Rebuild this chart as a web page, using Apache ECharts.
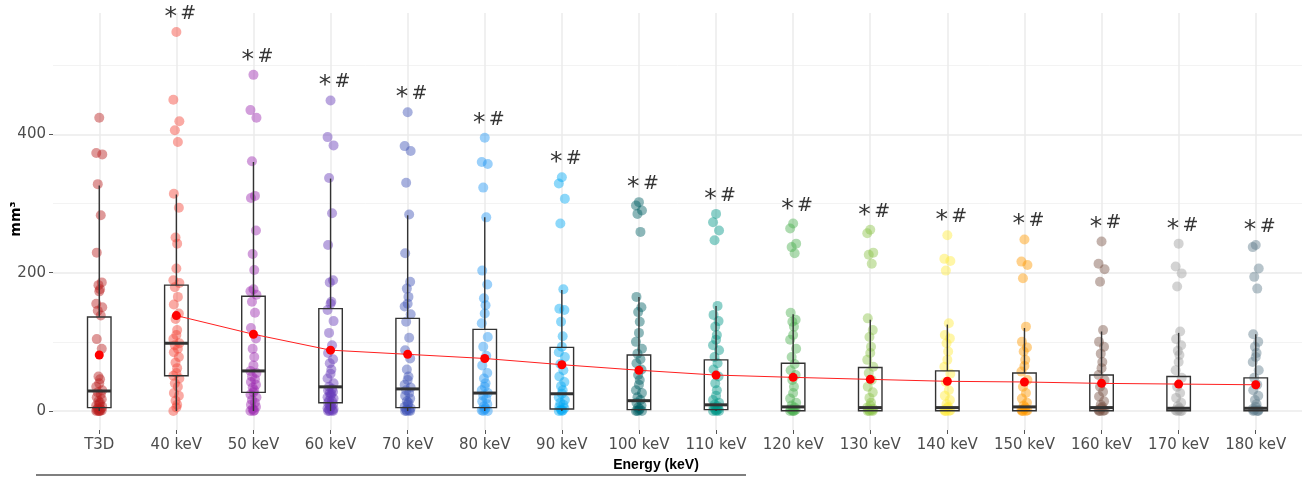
<!DOCTYPE html>
<html><head><meta charset="utf-8">
<script src="https://cdn.jsdelivr.net/npm/echarts@6/dist/echarts.min.js"></script>
<style>html,body{margin:0;padding:0;background:#fff}#c{width:1306px;height:477px}</style>
</head><body><div id="c"></div>
<script>
const categories = ['T3D','40 keV','50 keV','60 keV','70 keV','80 keV','90 keV','100 keV','110 keV','120 keV','130 keV','140 keV','150 keV','160 keV','170 keV','180 keV'];
const yTickLabels = [0, 200, 400];
const yMinorGrid = [100, 300, 500];
const yAxisTitle = 'mm³';
const xAxisTitle = 'Energy (keV)';

const pts_T3D = [424,373,371,328,283,229,186,182,176,173,155,150,145,138,104,90,50,46,40,35,30,27,24,20,17,14,12,10,8,6,4,3,2,1,0,0,0,0];
const pts_40 = [548,450,419,406,389,314,294,251,242,206,189,185,179,165,154,141,133,117,110,104,98,95,90,85,78,70,62,55,51,47,40,35,26,22,15,9,5,0];
const pts_50 = [486,435,424,361,311,308,261,227,204,176,173,168,158,142,120,105,90,78,66,58,55,50,46,42,38,34,30,27,24,20,16,12,9,6,3,1,0,0];
const pts_60 = [449,396,384,337,286,240,189,186,158,155,146,130,113,95,84,75,69,60,54,47,40,35,32,30,28,26,25,22,20,18,15,14,12,10,8,7,5,4,3,2,1,0,0,0];
const pts_70 = [432,383,376,330,284,228,187,177,165,155,151,140,129,106,88,76,60,50,45,38,34,30,26,22,18,14,12,9,6,4,2,1,0,0,0];
const pts_80 = [395,360,357,323,280,203,183,163,153,141,127,107,93,80,66,55,47,40,35,30,26,22,18,14,10,7,4,2,1,0,0];
const pts_90 = [338,329,307,271,176,148,146,129,108,93,85,78,68,59,50,42,36,30,25,20,16,12,9,6,4,2,1,0,0];
const pts_100 = [302,297,290,285,259,165,150,143,129,113,100,90,83,75,69,60,52,45,38,30,26,20,16,12,8,5,3,1,0,0,0];
const pts_110 = [285,273,261,247,152,139,130,122,110,103,95,88,78,69,60,50,40,30,22,16,12,9,7,5,3,2,1,0,0,0];
const pts_120 = [271,264,242,237,228,142,132,129,122,110,103,90,78,68,59,52,45,35,26,18,12,8,5,3,2,1,0,0,0];
const pts_130 = [262,257,229,226,213,134,117,107,93,84,74,64,55,45,35,27,19,12,8,5,3,2,1,0,0,0];
const pts_140 = [254,220,217,203,127,110,105,98,86,74,64,54,42,30,22,16,10,6,4,2,1,0,0,0];
const pts_150 = [248,216,211,192,122,100,92,86,74,65,57,45,35,26,18,12,8,5,3,2,1,0,0,0];
const pts_160 = [245,213,205,187,117,100,93,83,71,62,52,45,35,28,21,14,9,6,4,2,1,0,0,0];
const pts_170 = [242,209,199,180,115,104,95,87,81,71,59,48,35,26,19,12,7,4,2,1,0,0,0];
const pts_180 = [240,237,206,194,177,111,100,93,84,78,71,59,48,38,30,22,16,10,6,3,2,1,0,0,0];
const groupPoints = [pts_T3D,pts_40,pts_50,pts_60,pts_70,pts_80,pts_90,pts_100,pts_110,pts_120,pts_130,pts_140,pts_150,pts_160,pts_170,pts_180];

const whiskerLow  = [0,0,0,0,0,0,0,0,0,0,0,0,0,0,0,0];
const q1          = [5,51,27,12,5,5,3,2,2,0.5,0.5,0.5,0.5,0.5,0.5,0.5];
const median      = [29,98,58,35,32,26,25,15,9,6,5,5,6,5,4,4];
const q3          = [136,182,166,148,134,118,92,81,74,69,63,58,55,52,50,48];
const whiskerHigh = [326,313,360,336,283,280,175,165,152,140,132,125,120,115,113,111];
const means       = [81,138,111,88,82,76,67,59,52,48.7,45.8,43,42,40,39,38];
const significance = ['', '* #','* #','* #','* #','* #','* #','* #','* #','* #','* #','* #','* #','* #','* #','* #'];

const colors = ['#B71C1C','#F44336','#9C27B0','#673AB7','#3F51B5','#2196F3','#03A9F4','#006064','#009688','#4CAF50','#8BC34A','#FFEB3B','#FF9800','#795548','#9E9E9E','#607D8B'];
const jitter = [0,-3,3,-1.5,1.5,-2.5,2.5,-0.8,0.8];
const catIdx = categories.map((c,i)=>i);

const series = [];
groupPoints.forEach((pts, i) => {
  series.push({
    type:'scatter', z:2, silent:true,
    symbolSize:10,
    itemStyle:{color:colors[i], opacity:0.45},
    data: pts.map((v,k)=>({value:[i,v], symbolOffset:[jitter[k%jitter.length],0]}))
  });
});
series.push({
  type:'custom', z:3, silent:true,
  encode:{x:0, y:[1,2,3,4,5]},
  data: catIdx.map(i=>[i, whiskerLow[i], q1[i], median[i], q3[i], whiskerHigh[i]]),
  renderItem(params, api){
    const x = api.value(0);
    const c = v => api.coord([x, v]);
    const lo=c(api.value(1)), b=c(api.value(2)), m=c(api.value(3)), t=c(api.value(4)), hi=c(api.value(5));
    const w = 23.5, col = '#333333';
    return {type:'group', children:[
      {type:'line', shape:{x1:hi[0],y1:hi[1],x2:t[0],y2:t[1]}, style:{stroke:col,lineWidth:1.4}},
      {type:'line', shape:{x1:b[0],y1:b[1],x2:lo[0],y2:lo[1]}, style:{stroke:col,lineWidth:1.4}},
      {type:'rect', shape:{x:t[0]-w/2,y:t[1],width:w,height:b[1]-t[1]}, style:{fill:'none',stroke:col,lineWidth:1.4}},
      {type:'line', shape:{x1:m[0]-w/2,y1:m[1],x2:m[0]+w/2,y2:m[1]}, style:{stroke:col,lineWidth:3}}
    ]};
  }
});
series.push({
  type:'line', z:4, silent:true, showSymbol:false,
  lineStyle:{color:'#ff2020', width:1},
  data: catIdx.slice(1).map(i=>[i, means[i]])
});
series.push({
  type:'scatter', z:5, silent:true, symbolSize:9,
  itemStyle:{color:'#ff0000', opacity:1},
  data: catIdx.map(i=>[i, means[i]])
});
series.push({
  type:'scatter', z:6, silent:true, symbolSize:1,
  itemStyle:{color:'rgba(0,0,0,0)'},
  label:{show:true, position:'inside', offset:[4,-18],
    formatter: p => significance[p.dataIndex] ? '{a|*} {b|#}' : '',
    rich:{a:{fontSize:25, color:'#000', fontFamily:'DejaVu Sans', padding:[7,0,0,0]}, b:{fontSize:19, color:'#000', fontFamily:'DejaVu Sans'}}
  },
  data: catIdx.map(i=>[i, Math.max.apply(null, groupPoints[i])])
});

const chart = echarts.init(document.getElementById('c'), null, {renderer:'canvas'});
chart.setOption({
  animation:false,
  backgroundColor:'#fff',
  grid:{left:53, right:4, top:13, bottom:47, containLabel:false, outerBoundsMode:'none'},
  xAxis:[{
    type:'value', min:-0.6, max:15.6,
    axisLine:{show:false, onZero:false},
    axisTick:{show:true, customValues:catIdx, length:4, lineStyle:{color:'#555', width:1}},
    axisLabel:{customValues:catIdx, formatter:v=>categories[Math.round(v)], color:'#4d4d4d', fontSize:15, fontFamily:'DejaVu Sans', margin:8},
    splitLine:{show:true, lineStyle:{color:'#ebebeb', width:1.5}}
  }],
  yAxis:[{
    type:'value', min:-27.4, max:575.4,
    axisLine:{show:false, onZero:false},
    axisTick:{show:true, customValues:yTickLabels, length:4, lineStyle:{color:'#555'}},
    axisLabel:{customValues:yTickLabels, color:'#4d4d4d', fontSize:15, fontFamily:'DejaVu Sans', margin:7},
    splitLine:{show:true, lineStyle:{color:'#ebebeb', width:1.5}}
  },{
    type:'value', min:-27.4, max:575.4, position:'left',
    axisLine:{show:false, onZero:false}, axisLabel:{show:false},
    axisTick:{show:false, customValues:yMinorGrid},
    splitLine:{show:true, lineStyle:{color:'#f3f3f3', width:1}}
  }],
  series: series,
  graphic:[
    {type:'text', x:16, y:219, rotation:Math.PI/2, silent:true,
      style:{text:yAxisTitle, font:'bold 14px "DejaVu Sans"', fill:'#000', align:'center', verticalAlign:'middle'}},
    {type:'text', x:656, y:465, silent:true,
      style:{text:xAxisTitle, font:'bold 14px "Liberation Sans"', fill:'#000', align:'center', verticalAlign:'middle'}},
    {type:'line', shape:{x1:36,y1:475,x2:746,y2:475}, style:{stroke:'#555', lineWidth:1.5}, silent:true}
  ]
});
</script></body></html>
